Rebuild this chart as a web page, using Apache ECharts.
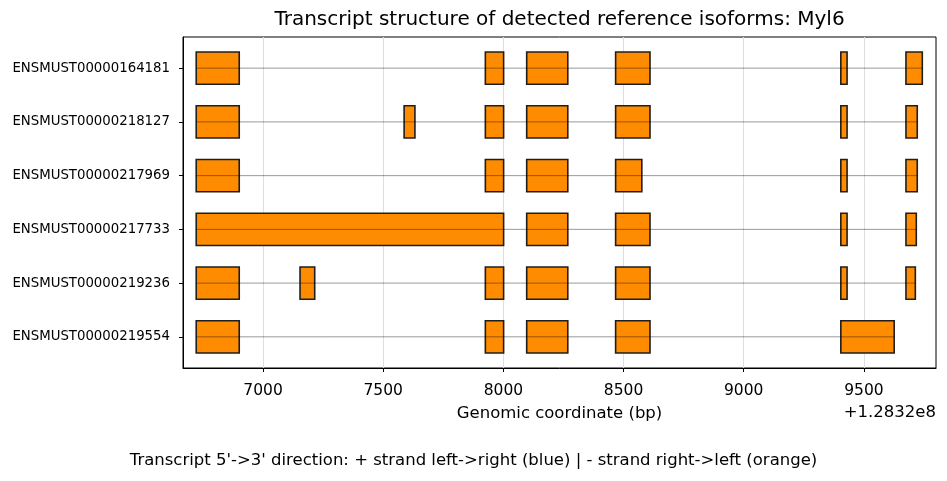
<!DOCTYPE html>
<html>
<head>
<meta charset="utf-8">
<script src="https://cdn.jsdelivr.net/npm/echarts@6/dist/echarts.min.js"></script>
<style>html,body{margin:0;padding:0;background:#fff}#c{width:947px;height:481px}</style>
</head>
<body>
<div id="c"></div>
<script>
// Data (genomic coordinates relative to offset 1.2832e8)
const offsetLabel = '+1.2832e8';
const transcripts = ['ENSMUST00000164181','ENSMUST00000218127','ENSMUST00000217969','ENSMUST00000217733','ENSMUST00000219236','ENSMUST00000219554'];
const exons_164181 = [[6722,6901],[7925,8001],[8097,8268],[8467,8610],[9404,9430],[9675,9743]];
const exons_218127 = [[6722,6901],[7587,7632],[7925,8001],[8097,8268],[8467,8610],[9404,9430],[9675,9722]];
const exons_217969 = [[6722,6901],[7925,8001],[8097,8268],[8467,8576],[9404,9430],[9675,9722]];
const exons_217733 = [[6722,8001],[8097,8268],[8467,8610],[9404,9430],[9675,9718]];
const exons_219236 = [[6722,6901],[7154,7215],[7925,8001],[8097,8268],[8467,8610],[9404,9430],[9675,9714]];
const exons_219554 = [[6722,6901],[7925,8001],[8097,8268],[8467,8610],[9404,9626]];
const xTicks = [7000,7500,8000,8500,9000,9500];
const xMin = 6667, xMax = 9800;

const allExons = [exons_164181, exons_218127, exons_217969, exons_217733, exons_219236, exons_219554];
const exonData = [];
const intronData = [];
allExons.forEach((list, row) => {
  list.forEach(e => exonData.push([e[0], e[1], row]));
  const s = Math.min(...list.map(e => e[0]));
  const t = Math.max(...list.map(e => e[1]));
  intronData.push([s, t, row]);
});

const FONT = 'DejaVu Sans';
const chart = echarts.init(document.getElementById('c'), null, {renderer:'canvas'});
const G = {left:183, right:11, top:37, bottom:113};
chart.setOption({
  animation:false,
  grid:{left:G.left, right:G.right, top:G.top, bottom:G.bottom, show:true, borderColor:'#000', borderWidth:1, backgroundColor:'transparent'},
  xAxis:{
    type:'value', min:xMin, max:xMax,
    axisLine:{show:true, onZero:false, lineStyle:{color:'#000', width:1}},
    axisTick:{show:true, length:4, lineStyle:{color:'#000'}, customValues:xTicks},
    axisLabel:{customValues:xTicks, color:'#000', fontFamily:FONT, fontSize:15.5, margin:15, formatter:v=>String(v)},
    splitLine:{show:true, lineStyle:{color:'#dedede', width:1}},
    name:'Genomic coordinate (bp)', nameLocation:'middle', nameGap:37,
    nameTextStyle:{color:'#000', fontFamily:FONT, fontSize:16.5}
  },
  yAxis:{
    type:'value', min:-0.58, max:5.58, inverse:true,
    axisLine:{show:true, onZero:false, lineStyle:{color:'#000', width:1}},
    axisTick:{show:true, length:4, lineStyle:{color:'#000'}, customValues:[0,1,2,3,4,5]},
    axisLabel:{customValues:[0,1,2,3,4,5], color:'#000', fontFamily:FONT, fontSize:13.3, margin:13, formatter:v=>transcripts[Math.round(v)]},
    splitLine:{show:false}
  },
  series:[
    {
      type:'custom', data:exonData, z:2, clip:true,
      renderItem:(params, api)=>{
        const a = api.coord([api.value(0), api.value(2)]);
        const b = api.coord([api.value(1), api.value(2)]);
        const h = Math.abs(api.size([0, 0.6])[1]);
        return {type:'rect', shape:{x:a[0], y:a[1]-h/2, width:b[0]-a[0], height:h},
          style:{fill:'#ff8c00', stroke:'#1e1e1e', lineWidth:1.6}};
      }
    },
    {
      type:'custom', data:intronData, z:3,
      renderItem:(params, api)=>{
        const a = api.coord([api.value(0), api.value(2)]);
        const b = api.coord([api.value(1), api.value(2)]);
        return {type:'line', shape:{x1:a[0], y1:a[1], x2:b[0], y2:b[1]},
          style:{stroke:'rgba(0,0,0,0.5)', lineWidth:0.8}};
      }
    }
  ],
  graphic:[
    {type:'text', x:559.5, y:20, style:{text:'Transcript structure of detected reference isoforms: Myl6', font:'20px "DejaVu Sans"', fill:'#000', align:'center', verticalAlign:'middle'}},
    {type:'text', x:936, y:413, style:{text:offsetLabel, font:'16.5px "DejaVu Sans"', fill:'#000', align:'right', verticalAlign:'middle'}},
    {type:'text', x:473.5, y:461, style:{text:"Transcript 5'->3' direction: + strand left->right (blue) | - strand right->left (orange)", font:'16.5px "DejaVu Sans"', fill:'#000', align:'center', verticalAlign:'middle'}}
  ]
});
</script>
</body>
</html>
